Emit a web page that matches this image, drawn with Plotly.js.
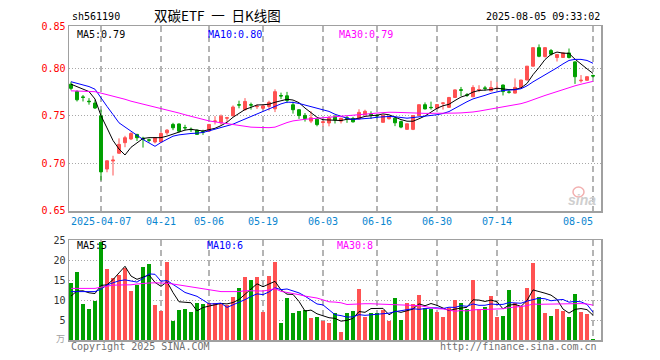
<!DOCTYPE html>
<html>
<head>
<meta charset="utf-8">
<script src="https://cdn.plot.ly/plotly-3.0.1.min.js"></script>
<style>html,body{margin:0;padding:0;background:#fff;}#chart{width:660px;height:360px;}</style>
</head>
<body>
<div id="chart"></div>
<script>
// ---- data ----
const opens = [0.7834,0.7757,0.770,0.7655,0.7635,0.750,0.694,0.7025,0.7107,0.7218,
0.7257,0.7305,0.7265,0.7248,0.7225,0.7225,0.7322,0.741,0.7415,0.7378,
0.736,0.735,0.7333,0.734,0.7442,0.7427,0.7476,0.750,0.7618,0.7566,
0.7618,0.7597,0.758,0.760,0.7575,0.7715,0.7712,0.7617,0.7565,0.7505,
0.7445,0.7465,0.743,0.7425,0.749,0.7445,0.748,0.7473,0.7468,0.7512,
0.752,0.7505,0.7432,0.747,0.7476,0.744,0.7358,0.7358,0.7503,0.7618,
0.759,0.758,0.7632,0.759,0.7694,0.7776,0.7722,0.7701,0.7774,0.7795,
0.7764,0.7788,0.7825,0.7752,0.774,0.780,0.7878,0.8024,0.8219,0.8125,
0.8188,0.8115,0.8115,0.8163,0.8069,0.787,0.7875,0.7925];
const highs = [0.786,0.777,0.772,0.7687,0.767,0.7566,0.703,0.708,0.7263,0.729,
0.7327,0.731,0.728,0.726,0.7265,0.733,0.736,0.7427,0.742,0.7406,
0.7378,0.7355,0.7354,0.7412,0.7497,0.7514,0.749,0.761,0.766,0.7687,
0.764,0.762,0.762,0.766,0.778,0.7745,0.7753,0.765,0.757,0.753,
0.7548,0.747,0.745,0.750,0.751,0.748,0.750,0.749,0.757,0.7565,
0.7548,0.752,0.751,0.7505,0.7485,0.745,0.742,0.7505,0.762,0.7642,
0.765,0.7625,0.7642,0.770,0.778,0.7805,0.774,0.7823,0.7823,0.7816,
0.787,0.7857,0.783,0.7775,0.7895,0.788,0.8025,0.8222,0.8253,0.8222,
0.8205,0.815,0.8166,0.821,0.8075,0.793,0.7915,0.7935];
const lows = [0.777,0.7652,0.7652,0.7618,0.7573,0.6819,0.6906,0.6872,0.710,0.717,
0.7245,0.7235,0.7166,0.722,0.721,0.722,0.730,0.735,0.7325,0.7347,
0.733,0.7305,0.730,0.733,0.741,0.7406,0.7434,0.7497,0.758,0.7555,
0.7566,0.7573,0.757,0.7556,0.754,0.7677,0.7635,0.7524,0.7468,0.744,
0.7424,0.739,0.739,0.739,0.742,0.742,0.7427,0.743,0.746,0.7503,
0.7468,0.7475,0.743,0.7462,0.7392,0.737,0.7354,0.735,0.750,0.757,
0.7566,0.7575,0.7566,0.7585,0.769,0.771,0.770,0.770,0.775,0.7764,
0.776,0.778,0.7715,0.7735,0.7735,0.7795,0.7875,0.802,0.8118,0.8115,
0.8135,0.8073,0.811,0.8105,0.7837,0.785,0.787,0.7905];
const closes = [0.779,0.767,0.7695,0.765,0.7583,0.691,0.7027,0.7034,0.720,0.727,
0.7315,0.727,0.7255,0.7244,0.727,0.7315,0.735,0.7375,0.7339,0.7374,
0.7355,0.7305,0.733,0.741,0.7446,0.7497,0.748,0.7593,0.7614,0.7652,
0.7614,0.7601,0.7605,0.7642,0.7755,0.771,0.7663,0.7565,0.7503,0.7472,
0.748,0.7408,0.7437,0.7478,0.7457,0.7475,0.7475,0.7437,0.7537,0.7548,
0.7514,0.750,0.7505,0.749,0.7427,0.7382,0.7417,0.7503,0.7618,0.7573,
0.7587,0.762,0.7636,0.7694,0.7774,0.777,0.7718,0.7799,0.7778,0.779,
0.7799,0.779,0.7756,0.775,0.780,0.7878,0.8024,0.8219,0.8128,0.8219,
0.815,0.8146,0.8163,0.8115,0.7913,0.7875,0.7913,0.792];
// volume, unit: 万
const volumes = [14.3,17.1,9.1,7.8,9.75,24.5,17.8,15.6,16.2,18.1,
12.25,13.7,18.3,19,8.8,7.25,19.5,4.75,7.5,7.8,
7,9.3,9,9.3,9.2,8.9,8.7,10.75,13,15.75,
15,15.75,7.1,16,19.5,4.3,10.4,6.8,7.2,7.5,
5.5,5.75,4.8,4.3,6.7,2,6.8,7.25,12.8,5.75,
6.7,6.8,7.5,4.75,10.5,5,9.3,9.1,11.3,8.1,
7.8,7,5.75,8.1,10,9.3,7.8,15,7.8,8.3,
11,5.7,6.1,12.5,9.2,8.5,13.1,19.3,10.8,6.8,
6.1,7.75,7.25,5.7,11.5,7.1,6.4,0.25];
// moving-average values before a full window exists
const ma5Head = [0.7834,0.7806,0.778,0.7756];
const ma10Head = [0.786,0.7843,0.7826,0.7809,0.7781,0.7687,0.760,0.7514,0.7427];
const ma30Head = [0.7764,0.7762,0.776,0.7758,0.7755,0.774,0.7725,0.771,0.7692,0.7675,
0.7655,0.764,0.7622,0.7608,0.7593,0.7578,0.7562,0.7545,0.753,0.7512,
0.7495,0.7478,0.746,0.7447,0.7437,0.7427,0.7415,0.7405,0.7395];
const vma5Head = [11,12.25,12.3,11.8];
const vma10Head = [12.1,12.1,12.1,12.1,12.1,12.7,13.75,14.3,14.8];
const vma30Head = [12.9,12.9,12.9,12.9,12.9,13.2,13.5,13.7,13.75,13.75,
13.8,14.0,14.2,14.25,14.3,14.3,14.2,14.0,13.75,13.5,
13.3,13.1,12.9,12.6,12.3,12.1,12.1,12.1,12.1];
const dateTickIdx = [5,15,23,32,42,51,61,71,87];
const dateTickText = ['2025-04-07','04-21','05-06','05-19','06-03','06-16','06-30','07-14','08-05'];
const priceTicks = [0.65,0.70,0.75,0.80,0.8445];
const priceTickText = ['0.65','0.70','0.75','0.80','0.85'];
const volTicks = [5,10,15,20,25];
const volTickText = ['5','10','15','20','25'];
const legendPrice = ['MA5:0.79','MA10:0.80','MA30:0.79'];
const legendVol = ['MA5:5','MA10:6','MA30:8'];
const headerCode = 'sh561190';
const headerTitle = '双碳ETF\u2002一\u2002日K线图';
const headerTime = '2025-08-05 09:33:02';

// ---- helpers ----
function movingAvg(vals, n, head){
  return vals.map((v,i)=>{
    if(i < n-1) return head[i];
    let s=0; for(let k=i-n+1;k<=i;k++) s+=vals[k];
    return s/n;
  });
}
const idx = closes.map((_,i)=>i);
const RED='#ff5252', GREEN='#00a000';
const volColors = closes.map((c,i)=> c>=opens[i] ? RED : GREEN);

// pixel helpers for annotations (plot area: x 69..601, y 26..340)
const L=69, R=601, T=26, B=340;
const px = x => (x-L)/(R-L);
const py = y => (B-y)/(B-T);
const mono = 'DejaVu Sans Mono, monospace';

const traces = [
  {type:'candlestick', x:idx, open:opens, high:highs, low:lows, close:closes,
   xaxis:'x', yaxis:'y', whiskerwidth:0, hoverinfo:'skip',
   increasing:{line:{color:RED,width:1}, fillcolor:RED},
   decreasing:{line:{color:GREEN,width:1}, fillcolor:GREEN}},
  {type:'scatter', mode:'lines', x:idx, y:movingAvg(closes,5,ma5Head), xaxis:'x', yaxis:'y', line:{color:'#000000',width:1}},
  {type:'scatter', mode:'lines', x:idx, y:movingAvg(closes,10,ma10Head), xaxis:'x', yaxis:'y', line:{color:'#0000ff',width:1}},
  {type:'scatter', mode:'lines', x:idx, y:movingAvg(closes,30,ma30Head), xaxis:'x', yaxis:'y', line:{color:'#ff00ff',width:1}},
  {type:'bar', x:idx, y:volumes, xaxis:'x2', yaxis:'y2', width:0.82, marker:{color:volColors, line:{width:0}}},
  {type:'scatter', mode:'lines', x:idx, y:movingAvg(volumes,5,vma5Head), xaxis:'x2', yaxis:'y2', line:{color:'#000000',width:1}},
  {type:'scatter', mode:'lines', x:idx, y:movingAvg(volumes,10,vma10Head), xaxis:'x2', yaxis:'y2', line:{color:'#0000ff',width:1}},
  {type:'scatter', mode:'lines', x:idx, y:movingAvg(volumes,30,vma30Head), xaxis:'x2', yaxis:'y2', line:{color:'#ff00ff',width:1}}
];

const xr = [-0.333, 88.333];
const baseX = {range:xr, tickvals:dateTickIdx, showticklabels:false, ticks:'',
  showgrid:true, gridcolor:'#b4b4b4', gridwidth:1.5, griddash:'6px,4px',
  zeroline:false, showline:true, mirror:true, linecolor:'#a0a0a0', linewidth:1.5, fixedrange:true};

const annotations = [];
function addText(text, x, y, anchor, color, size, family, extra){
  annotations.push(Object.assign({text:text, xref:'paper', yref:'paper', x:px(x), y:py(y),
    xanchor:anchor, yanchor:'middle', showarrow:false,
    font:{family:family||mono, size:size||10, color:color||'#000'}}, extra||{}));
}
addText(headerCode, 70, 16, 'left', '#000', 10);
addText(headerTitle, 152, 15, 'left', '#000', 13.5, 'Noto Sans CJK SC');
addText(headerTime, 602, 16, 'right', '#000', 10);
addText(legendPrice[0], 75, 34, 'left', '#000000', 10);
addText(legendPrice[1], 206, 34, 'left', '#0000ff', 10);
addText(legendPrice[2], 337, 34, 'left', '#ff00ff', 10);
addText(legendVol[0], 75, 245, 'left', '#000000', 10);
addText(legendVol[1], 205, 245, 'left', '#0000ff', 10);
addText(legendVol[2], 335, 245, 'left', '#ff00ff', 10);
dateTickIdx.forEach((d,k)=>{
  const last = k===dateTickIdx.length-1;
  annotations.push({text:dateTickText[k], xref:'x', yref:'paper', x: last ? d+0.4 : d, y:py(221.5),
    xanchor: last ? 'right' : 'center', yanchor:'middle', showarrow:false,
    font:{family:mono, size:10, color:'#0a86d0'}});
});
addText('万', 67, 338, 'right', '#a0a0a0', 9, 'Noto Sans CJK SC');
addText('Copyright 2025 SINA.COM', 69, 346, 'left', '#707070', 10);
addText('http://finance.sina.com.cn', 599, 346, 'right', '#707070', 10);
addText('<b><i>sina</i></b>', 582, 200, 'center', '#cfcfcf', 14, 'Liberation Sans, Arial, sans-serif');

const layout = {
  width:660, height:360, paper_bgcolor:'#ffffff', plot_bgcolor:'#ffffff',
  margin:{l:L, r:660-R, t:T, b:360-B}, showlegend:false, hovermode:false, dragmode:false,
  xaxis:Object.assign({}, baseX, {anchor:'y', rangeslider:{visible:false}}),
  xaxis2:Object.assign({}, baseX, {anchor:'y2'}),
  yaxis:{domain:[py(211),1], range:[0.6498,0.8447], tickvals:priceTicks, ticktext:priceTickText,
    tickfont:{family:mono, size:10, color:'#ff0000'}, ticks:'', ticklabelstandoff:0,
    showgrid:true, gridcolor:'#a8a8a8', gridwidth:1, griddash:'1px,2px', zeroline:false,
    showline:true, mirror:true, linecolor:'#a0a0a0', linewidth:1.5, fixedrange:true},
  yaxis2:{domain:[0,py(240)], range:[0,25], tickvals:volTicks, ticktext:volTickText,
    tickfont:{family:mono, size:10, color:'#333333'}, ticks:'', ticklabelstandoff:0,
    showgrid:true, gridcolor:'#a8a8a8', gridwidth:1, griddash:'1px,2px', zeroline:false,
    showline:true, mirror:true, linecolor:'#a0a0a0', linewidth:1.5, fixedrange:true},
  annotations:annotations,
  shapes:[{type:'circle', xref:'paper', yref:'paper', x0:px(573), x1:px(584), y0:py(197), y1:py(187),
    line:{color:'#f2b0b0', width:1.5}, fillcolor:'rgba(0,0,0,0)'}],
  bargap:0
};
Plotly.newPlot('chart', traces, layout, {staticPlot:true, displayModeBar:false});
</script>
</body>
</html>
